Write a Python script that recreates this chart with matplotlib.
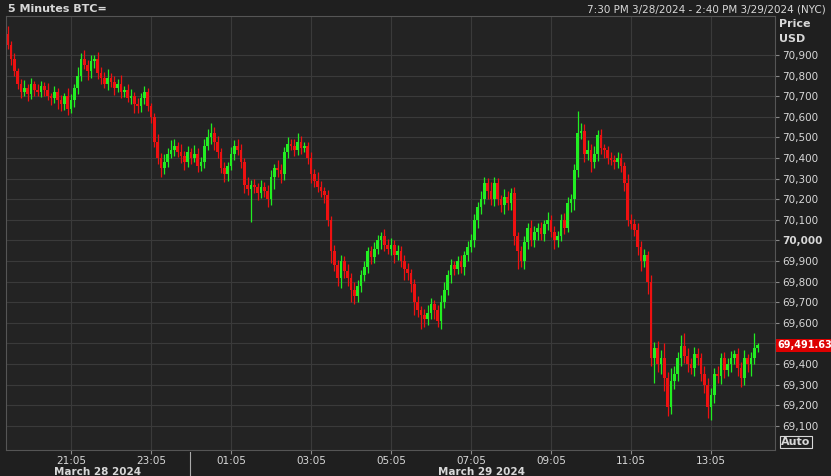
import numpy as np
import matplotlib.pyplot as plt
from matplotlib.patches import Rectangle

# 5-minute closes (starting 19:30)
closes = [
    70950, 70880, 70820, 70760, 70720, 70740, 70710, 70760, 70730, 70720,
    70750, 70730, 70700, 70690, 70720, 70680, 70660, 70700, 70640, 70680,
    70740, 70800, 70880, 70850, 70820, 70870, 70880, 70810, 70790, 70760,
    70790, 70770, 70740, 70760, 70720, 70730, 70690, 70700, 70660, 70650,
    70690, 70720, 70650, 70600, 70480, 70400, 70350, 70380, 70420, 70440,
    70460, 70430, 70410, 70380, 70430, 70400, 70420, 70360, 70380, 70460,
    70500, 70520, 70480, 70430, 70350, 70320, 70360, 70420, 70460, 70440,
    70380, 70270, 70250, 70270, 70260, 70230, 70260, 70240, 70200, 70310,
    70350, 70340, 70320, 70430, 70470, 70460, 70440, 70480, 70450, 70460,
    70400, 70320, 70290, 70260, 70240, 70220, 70100, 69950, 69880, 69820,
    69900, 69850, 69820, 69760, 69730, 69780, 69830, 69870, 69950, 69920,
    69960, 70000, 70020, 69980, 69960, 69980, 69930, 69950, 69900, 69860,
    69840, 69790, 69700, 69660, 69640, 69620, 69650, 69690, 69660, 69610,
    69700, 69760, 69830, 69880, 69860, 69900, 69870, 69930, 69970, 70000,
    70100, 70160, 70200, 70280, 70240, 70200, 70280, 70200, 70170, 70210,
    70180, 70230, 70020, 69950, 69900, 69990, 70060, 70000, 70040, 70060,
    70030, 70080, 70100, 70040, 70000, 70020, 70100, 70060, 70180, 70200,
    70340, 70520, 70530, 70420, 70440, 70380, 70420, 70510, 70450, 70440,
    70400, 70390, 70380, 70400, 70360, 70280, 70100, 70080, 70050, 69970,
    69900, 69930, 69800, 69430, 69480, 69400, 69430, 69330, 69190, 69320,
    69350, 69430, 69490, 69440, 69400, 69380, 69450, 69430, 69350, 69300,
    69190, 69250, 69350, 69340, 69430, 69370, 69400, 69430, 69450, 69380,
    69330, 69430, 69400, 69430, 69480, 69492,
]
first_open = 71000
# wick extensions above / below the body (USD), read roughly
wick_up = [
    40, 20, 30, 15, 25, 40, 20, 30, 15, 30, 25, 20, 35, 15, 30, 20, 25, 15, 40, 30,
    20, 40, 30, 45, 25, 30, 20, 35, 30, 25, 40, 20, 30, 25, 45, 20, 30, 35, 20, 30,
    25, 30, 20, 15, 20, 35, 25, 40, 30, 45, 30, 20, 40, 25, 30, 20, 45, 30, 25, 30,
    40, 50, 30, 25, 20, 30, 20, 35, 25, 30, 30, 20, 40, 25, 30, 20, 35, 25, 30, 30,
    20, 40, 30, 25, 30, 20, 30, 40, 25, 20, 20, 30, 25, 40, 30, 20, 25, 20, 30, 25,
    30, 25, 35, 20, 40, 30, 25, 30, 20, 25, 30, 25, 20, 35, 25, 30, 20, 30, 25, 30,
    30, 20, 25, 30, 20, 25, 35, 30, 20, 25, 35, 40, 25, 30, 20, 25, 30, 20, 25, 30,
    30, 25, 40, 30, 25, 45, 30, 25, 20, 40, 30, 25, 30, 20, 25, 30, 25, 40, 30, 25,
    30, 20, 40, 25, 30, 25, 30, 35, 30, 25, 30, 110, 40, 35, 45, 30, 40, 25, 30, 20,
    20, 30, 25, 30, 25, 20, 40, 30, 25, 35, 25, 30, 20, 30, 25, 30, 40, 70, 30, 60,
    40, 30, 50, 60, 40, 30, 35, 30, 25, 40, 30, 35, 30, 40, 25, 30, 30, 35, 20, 30,
    30, 40, 20, 30, 70, 10,
]
wick_dn = [
    20, 30, 20, 25, 30, 20, 35, 25, 30, 20, 25, 30, 20, 35, 25, 40, 30, 25, 30, 20,
    35, 30, 25, 20, 40, 30, 35, 25, 30, 20, 30, 25, 35, 20, 30, 25, 20, 30, 40, 30,
    25, 30, 20, 30, 25, 30, 40, 30, 25, 20, 30, 25, 35, 40, 25, 30, 20, 30, 25, 30,
    20, 30, 40, 30, 25, 35, 30, 20, 30, 25, 30, 40, 30, 160, 30, 35, 25, 30, 40, 30,
    60, 30, 40, 25, 30, 20, 30, 25, 30, 20, 30, 40, 30, 25, 30, 40, 30, 60, 30, 40,
    50, 30, 40, 60, 40, 30, 30, 25, 30, 35, 30, 25, 40, 30, 25, 30, 40, 25, 30, 50,
    30, 40, 60, 30, 70, 40, 30, 30, 40, 30, 40, 30, 25, 35, 30, 25, 30, 40, 30, 25,
    30, 40, 30, 25, 40, 30, 35, 30, 30, 40, 30, 30, 40, 90, 30, 40, 30, 25, 30, 40,
    30, 35, 30, 25, 40, 30, 25, 30, 20, 40, 50, 30, 30, 40, 30, 50, 30, 35, 30, 40,
    30, 25, 35, 30, 30, 40, 30, 25, 30, 40, 50, 30, 60, 40, 120, 40, 50, 60, 40, 30,
    40, 30, 40, 35, 40, 30, 40, 35, 30, 40, 50, 60, 40, 30, 35, 40, 30, 40, 30, 40,
    40, 30, 40, 60, 30, 20,
]
x_tick_labels = ['21:05', '23:05', '01:05', '03:05', '05:05', '07:05', '09:05', '11:05', '13:05']
y_ticks = list(range(69100, 71000, 100))
last_price = '69,491.63'

bg = '#1f1f1f'
plot_bg = '#232323'
grid = '#3a3a3a'
txt = '#d8d8d8'
up_c = '#22ee22'
dn_c = '#ee1111'

closes = np.array(closes, dtype=float)
opens = np.concatenate([[first_open], closes[:-1]])
highs = np.maximum(opens, closes) + np.array(wick_up)
lows = np.minimum(opens, closes) - np.array(wick_dn)
idx = np.arange(len(closes))

W, H = 831, 476
fig = plt.figure(figsize=(W / 100, H / 100), dpi=100, facecolor=bg)
ax = fig.add_axes([6 / W, 1 - 450 / H, (775 - 6) / W, (450 - 16) / H])
ax.set_facecolor(plot_bg)
ax.set_xlim(-0.5, 230.2)
ax.set_ylim(68983, 71089)

for i in idx:
    c = up_c if closes[i] >= opens[i] else dn_c
    ax.vlines(i, lows[i], highs[i], color=c, lw=0.9)
    lo = min(opens[i], closes[i])
    h = max(abs(closes[i] - opens[i]), 5)
    ax.add_patch(Rectangle((i - 0.42, lo), 0.84, h, color=c, lw=0))

xt = [19 + 24 * k for k in range(len(x_tick_labels))]
ax.set_xticks(xt)
ax.set_xticklabels(x_tick_labels, color=txt, fontsize=7.5)
ax.set_yticks(y_ticks)
ax.yaxis.tick_right()
# the 69,500 label sits under the last-price box
ylabels = ['' if v == 69500 else f'{v:,}' for v in y_ticks]
ax.set_yticklabels(ylabels, color=txt, fontsize=7.5)
for lab, v in zip(ax.get_yticklabels(), y_ticks):
    if v == 70000:
        lab.set_fontweight('bold')
ax.tick_params(axis='y', colors='#888888', length=3, pad=2, labelcolor=txt)
ax.tick_params(axis='x', colors='#888888', length=3, pad=1, labelcolor=txt)
ax.grid(True, color=grid, lw=0.8)
ax.set_axisbelow(True)
for s in ax.spines.values():
    s.set_color('#555555')
    s.set_linewidth(0.8)

fig.text(8 / W, 1 - 9 / H, '5 Minutes BTC=', color=txt, fontsize=8, fontweight='bold', va='center')
fig.text(826 / W, 1 - 9 / H, '7:30 PM 3/28/2024 - 2:40 PM 3/29/2024 (NYC)', color=txt,
         fontsize=7.5, ha='right', va='center')
fig.text(779 / W, 1 - 24 / H, 'Price', color=txt, fontsize=8, fontweight='bold', va='center')
fig.text(779 / W, 1 - 39 / H, 'USD', color=txt, fontsize=8, fontweight='bold', va='center')
ax.text(1.003, 69491.63, last_price, transform=ax.get_yaxis_transform(), color='white',
        fontsize=7, fontweight='bold', va='center', ha='left',
        bbox=dict(facecolor='#dd0000', edgecolor='none', pad=1.2))
fig.text(781 / W, 1 - 442 / H, 'Auto', color=txt, fontsize=8, fontweight='bold', va='center',
         bbox=dict(facecolor=bg, edgecolor=txt, pad=1, lw=0.8))
fig.text(98 / W, 1 - 472 / H, 'March 28 2024', color=txt, fontsize=7.5, fontweight='bold', ha='center', va='center')
fig.text(482 / W, 1 - 472 / H, 'March 29 2024', color=txt, fontsize=7.5, fontweight='bold', ha='center', va='center')
fig.add_artist(plt.Line2D([190 / W, 190 / W], [1 - 476 / H, 1 - 452 / H], color='#aaaaaa', lw=0.8))

fig.savefig('out.png', dpi=100, facecolor=bg)
